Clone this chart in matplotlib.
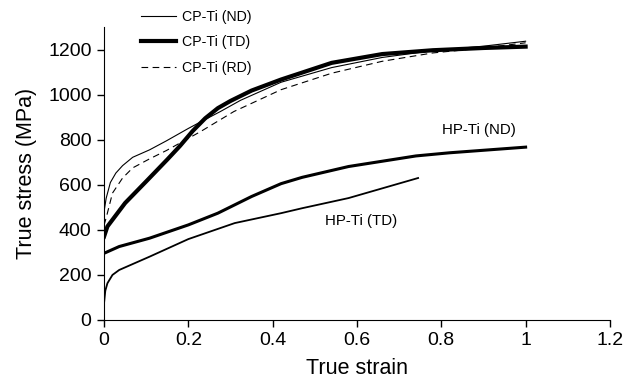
import matplotlib.pyplot as plt

plt.rcParams['font.family'] = ['Liberation Sans', 'DejaVu Sans']

# CP-Ti curves
cp_nd_strain = [0, 0.005, 0.015, 0.028, 0.044, 0.068, 0.108, 0.148, 0.2, 0.228, 0.276, 0.324, 0.42, 0.54, 0.66, 0.78, 0.9, 1.0]
cp_nd_stress = [480, 540, 610, 652, 685, 722, 755, 795, 850, 878, 925, 975, 1055, 1120, 1165, 1195, 1215, 1237]

cp_td_strain = [0, 0.008, 0.05, 0.1, 0.15, 0.18, 0.21, 0.24, 0.27, 0.3, 0.35, 0.42, 0.54, 0.66, 0.78, 0.9, 1.0]
cp_td_stress = [370, 415, 519, 615, 712, 772, 838, 895, 940, 972, 1018, 1067, 1141, 1180, 1197, 1207, 1213]

cp_rd_strain = [0, 0.006, 0.02, 0.044, 0.068, 0.108, 0.148, 0.228, 0.308, 0.42, 0.54, 0.66, 0.78, 0.9, 1.0]
cp_rd_stress = [420, 460, 563, 630, 675, 715, 752, 835, 925, 1022, 1095, 1148, 1185, 1207, 1230]

# HP-Ti curves
hp_nd_strain = [0, 0.036, 0.108, 0.2, 0.27, 0.35, 0.42, 0.47, 0.58, 0.74, 0.82, 1.0]
hp_nd_stress = [296, 326, 363, 422, 474, 548, 605, 633, 681, 728, 742, 767]

hp_td_strain = [0, 0.003, 0.008, 0.02, 0.036, 0.108, 0.2, 0.31, 0.42, 0.47, 0.58, 0.745]
hp_td_stress = [75, 130, 163, 200, 222, 281, 359, 430, 474, 496, 541, 630]

x_ticks = [0, 0.2, 0.4, 0.6, 0.8, 1.0, 1.2]
x_tick_labels = ['0', '0.2', '0.4', '0.6', '0.8', '1', '1.2']
y_ticks = [0, 200, 400, 600, 800, 1000, 1200]

fig = plt.figure(figsize=(6.23, 3.86), dpi=100)
ax = fig.add_axes([0.167, 0.171, 0.812, 0.759])

l_nd, = ax.plot(cp_nd_strain, cp_nd_stress, color='black', linewidth=0.8, label='CP-Ti (ND)')
l_td, = ax.plot(cp_td_strain, cp_td_stress, color='black', linewidth=3.0, label='CP-Ti (TD)')
l_rd, = ax.plot(cp_rd_strain, cp_rd_stress, color='black', linewidth=0.8, linestyle=(0, (6, 4)), label='CP-Ti (RD)')
ax.plot(hp_nd_strain, hp_nd_stress, color='black', linewidth=2.2)
ax.plot(hp_td_strain, hp_td_stress, color='black', linewidth=1.3)

ax.text(0.89, 844, 'HP-Ti (ND)', fontsize=10.8, ha='center', va='center')
ax.text(0.61, 441, 'HP-Ti (TD)', fontsize=10.8, ha='center', va='center')

ax.set_xlim(0, 1.2)
ax.set_ylim(0, 1300)
ax.set_xticks(x_ticks)
ax.set_xticklabels(x_tick_labels)
ax.set_yticks(y_ticks)
ax.tick_params(direction='out', length=5, width=1, labelsize=14, pad=4)
ax.spines['top'].set_visible(False)
ax.spines['right'].set_visible(False)
ax.set_xlabel('True strain', fontsize=15.5, labelpad=6)
ax.set_ylabel('True stress (MPa)', fontsize=15.5, labelpad=8)

fig.legend(handles=[l_nd, l_td, l_rd], loc='upper left', bbox_to_anchor=(0.21, 1.0),
           frameon=False, fontsize=10.2, handlelength=2.5, handletextpad=0.4,
           labelspacing=0.8, borderaxespad=0.3)

fig.savefig('out.png', dpi=100)
